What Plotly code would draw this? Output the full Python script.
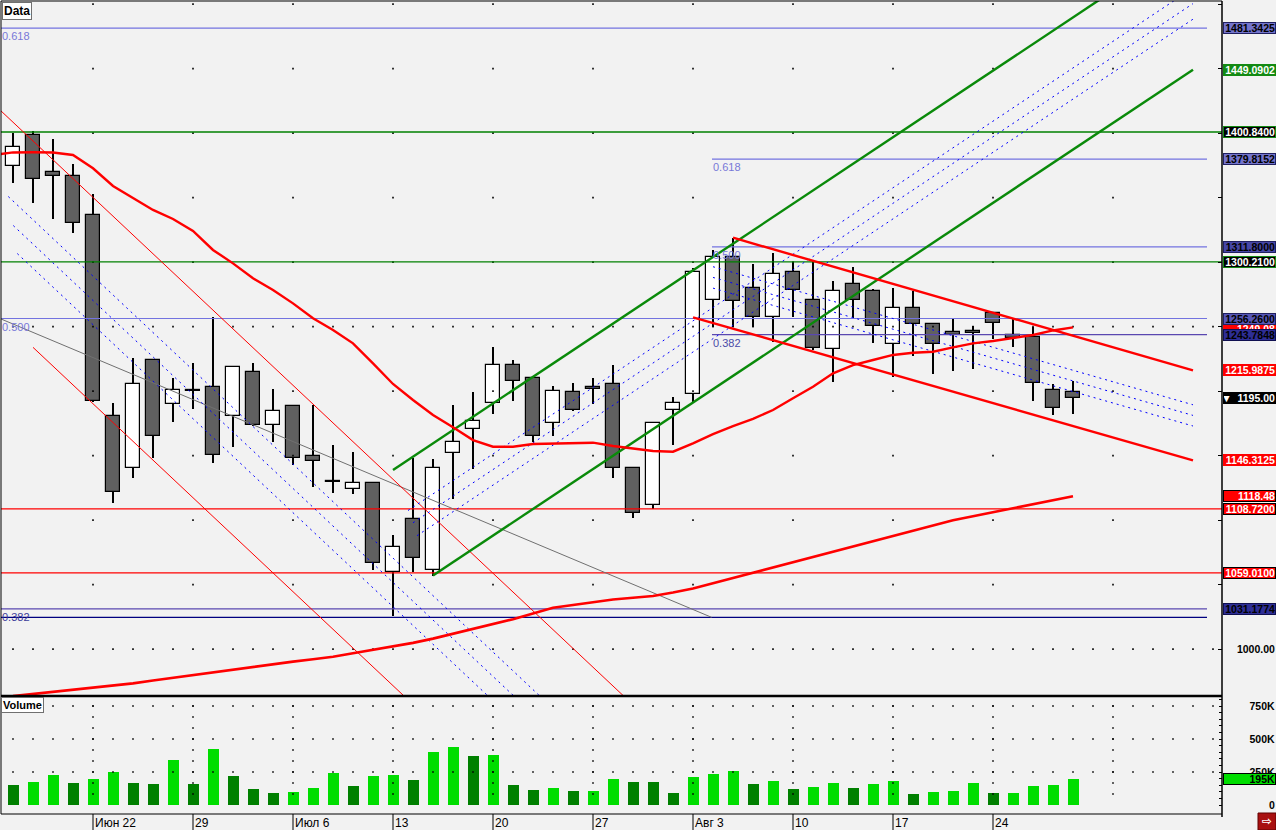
import plotly.graph_objects as go

# ---------------- data ----------------
candle_idx = list(range(54))
opens = [1374.7, 1398.5, 1369.6, 1366.5, 1336.3, 1180.7, 1140.1, 1224.1, 1189.7, 1200.8,
         1202.9, 1180.7, 1215.0, 1173.7, 1188.4, 1149.9, 1130.3, 1123.9, 1128.5, 1059.5,
         1100.6, 1061.3, 1151.8, 1170.4, 1190.5, 1219.9, 1209.9, 1175.0, 1199.1, 1202.9,
         1205.3, 1140.1, 1111.7, 1185.1, 1197.5, 1270.4, 1303.7, 1279.7, 1257.2, 1292.1,
         1270.4, 1232.4, 1282.8, 1277.3, 1236.3, 1264.2, 1251.8, 1245.6, 1246.3, 1260.3,
         1243.2, 1241.7, 1200.6, 1199.1]
highs = [1400.1, 1401.8, 1395.2, 1376.0, 1352.6, 1191.0, 1225.4, 1224.5, 1209.9, 1221.5,
         1257.2, 1219.5, 1221.5, 1201.4, 1189.0, 1189.2, 1158.2, 1153.0, 1129.0, 1088.4,
         1147.9, 1147.3, 1189.2, 1199.1, 1233.9, 1224.1, 1211.0, 1203.9, 1206.5, 1210.3,
         1220.2, 1141.0, 1176.0, 1195.2, 1295.4, 1309.4, 1318.9, 1298.3, 1307.3, 1299.8,
         1301.6, 1285.3, 1296.2, 1279.0, 1279.7, 1277.6, 1253.0, 1255.6, 1250.2, 1261.0,
         1255.6, 1249.9, 1205.3, 1207.6]
lows = [1361.3, 1345.6, 1333.2, 1322.3, 1191.8, 1113.0, 1132.4, 1147.9, 1176.3, 1185.9,
        1144.0, 1156.9, 1173.0, 1160.8, 1142.7, 1125.8, 1121.2, 1120.0, 1061.3, 1025.6,
        1060.0, 1056.6, 1116.1, 1139.4, 1182.0, 1192.5, 1160.8, 1165.4, 1184.5, 1189.7,
        1132.4, 1101.4, 1108.3, 1158.0, 1191.0, 1249.9, 1249.9, 1249.9, 1238.3, 1257.2,
        1232.0, 1207.3, 1255.6, 1237.0, 1210.7, 1227.4, 1213.0, 1215.3, 1216.9, 1240.1,
        1233.9, 1192.1, 1181.2, 1182.0]
closes = [1389.0, 1364.2, 1366.5, 1330.1, 1192.3, 1121.5, 1205.3, 1165.2, 1200.8, 1200.1,
          1150.4, 1218.9, 1173.7, 1184.8, 1147.9, 1145.8, 1129.5, 1129.0, 1066.7, 1079.4,
          1070.4, 1140.1, 1160.3, 1176.6, 1219.9, 1207.6, 1165.0, 1199.8, 1185.1, 1201.4,
          1140.1, 1105.3, 1175.0, 1190.5, 1292.1, 1303.7, 1269.6, 1257.2, 1290.5, 1278.1,
          1233.2, 1277.3, 1270.4, 1250.2, 1264.2, 1251.8, 1236.3, 1243.2, 1244.8, 1252.6,
          1240.9, 1206.0, 1186.6, 1195.0]

volumes = [152, 177, 227, 167, 197, 250, 167, 159, 341, 159,
           424, 220, 121, 91, 98, 129, 242, 144, 220, 227,
           189, 402, 439, 371, 379, 152, 114, 129, 106, 106,
           197, 177, 177, 91, 212, 235, 258, 159, 182, 121,
           136, 167, 129, 159, 182, 83, 98, 106, 167, 91,
           91, 144, 152, 195]  # thousands
volume_up = [0, 1, 1, 0, 1, 1, 0, 0, 1, 0,
             1, 0, 0, 0, 1, 1, 1, 0, 1, 1,
             0, 1, 1, 0, 1, 0, 0, 1, 0, 1,
             1, 0, 0, 0, 1, 1, 1, 0, 1, 0,
             1, 1, 0, 1, 1, 0, 1, 1, 1, 0,
             1, 1, 1, 1]

ma_fast_idx = list(range(-1, 54))
ma_fast = [1383.0, 1385.0, 1385.1, 1384.9, 1383.0, 1372.7, 1359.0, 1349.4, 1340.4, 1333.4,
           1324.1, 1309.4, 1299.0, 1287.4, 1278.4, 1268.0, 1256.4, 1247.3, 1237.0, 1221.5,
           1205.5, 1193.1, 1181.5, 1171.9, 1162.0, 1156.9, 1156.9, 1159.0, 1159.5, 1159.8,
           1160.0, 1157.4, 1155.6, 1153.6, 1153.0, 1159.5, 1166.7, 1172.9, 1178.4, 1185.3,
           1194.4, 1203.4, 1213.8, 1220.2, 1224.1, 1228.0, 1229.7, 1230.5, 1233.9, 1237.0,
           1238.8, 1240.9, 1243.5, 1247.0, 1249.4]
ma_slow = [963.5, 965.1, 966.8, 968.5, 970.1, 971.8, 973.4, 975.7, 977.8, 980.1,
           982.3, 984.5, 986.5, 988.3, 990.3, 992.1, 994.1, 996.7, 999.4, 1002.0,
           1004.8, 1008.1, 1011.8, 1015.5, 1019.3, 1023.2, 1027.6, 1032.0, 1034.2, 1036.5,
           1038.4, 1039.8, 1041.1, 1043.8, 1047.0, 1051.1, 1055.2, 1059.2, 1063.3, 1067.4,
           1071.4, 1075.5, 1079.6, 1083.7, 1087.7, 1091.8, 1095.8, 1099.9, 1103.0, 1106.1,
           1109.2, 1112.4, 1115.5, 1118.48]

week_ticks = [4, 9, 14, 19, 24, 29, 34, 39, 44, 49]
week_labels = ["Июн 22", "29", "Июл 6", "13", "20", "27", "Авг 3", "10", "17", "24"]
grid_cols = [4, 9, 14, 19, 24, 29, 34, 39, 44, 49, 55]
price_levels = [1000, 1050, 1100, 1150, 1200, 1250, 1300, 1350, 1400, 1450, 1500]
dense_levels = [1000, 1250]
vol_levels = [250, 500, 750]

# Fibonacci levels (value, label)
fib_left = [(1481.3425, "0.618"), (1256.26, "0.500"), (1031.1774, "0.382")]
fib_right = [(1379.8152, "0.618"), (1311.80, "0.500"), (1243.7848, "0.382")]
green_levels = [1400.84, 1300.21]
red_levels = [1108.72, 1059.01]
navy_level = 1024.6

# trend lines: (x0, y0, x1, y1) in (bar index, price)
thin_red_lines = [(-1, 1423.0, 31, 956.8), (1.0, 1233.9, 21, 942.5)]
down_fib_lines = [(-0.235, 1350.8, 27, 954.0), (0.015, 1328.3, 27, 935.1), (0.215, 1306.6, 27, 916.3)]
grey_line = (-1, 1258.5, 34.93, 1024.6)
green_channel = [(19.0, 1138.8, 59, 1551.6), (21.0, 1057.0, 59, 1449.09)]
up_fib_lines = [(19.75, 1107.4, 59, 1512.4), (20.0, 1097.9, 59, 1500.35), (20.2, 1087.9, 59, 1488.3)]
red_channel = [(36, 1318.9, 59, 1215.99), (34, 1257.2, 59, 1146.31)]
red_fib_lines = [(35, 1296.4, 59, 1189.37), (35, 1288.1, 59, 1181.15), (35, 1279.8, 59, 1172.93)]

# right-side price tags: (value, text, background, text colour, border)
price_tags = [
    (1481.3425, "1481.3425", "#7474cc", "#000000", "#202060"),
    (1449.0902, "1449.0902", "#138a13", "#ffffff", "#138a13"),
    (1400.84, "1400.8400", "#000000", "#ffffff", "#138a13"),
    (1379.8152, "1379.8152", "#7474cc", "#000000", "#202060"),
    (1311.80, "1311.8000", "#4646a6", "#000000", "#202060"),
    (1300.21, "1300.2100", "#000000", "#ffffff", "#138a13"),
    (1248.4, "1249.08", "#ff0000", "#ffffff", "#ff0000"),
    (1256.26, "1256.2600", "#5656b6", "#000000", "#202060"),
    (1243.7848, "1243.7848", "#2e2e96", "#000000", "#101050"),
    (1215.9875, "1215.9875", "#ff0000", "#ffffff", "#ff0000"),
    (1195.00, "▼  1195.00", "#000000", "#ffffff", "#000000"),
    (1146.3125, "1146.3125", "#ff0000", "#ffffff", "#ff0000"),
    (1118.48, "1118.48", "#ff0000", "#ffffff", "#000000"),
    (1108.72, "1108.7200", "#ff0000", "#ffffff", "#000000"),
    (1059.01, "1059.0100", "#ff0000", "#ffffff", "#000000"),
    (1031.1774, "1031.1774", "#2e2e96", "#000000", "#101050"),
]
volume_labels = [(750, "750K"), (500, "500K"), (250, "250K"), (0, "0")]
last_volume_tag = (195, "195K")

# ---------------- layout constants ----------------
W, H = 1276, 830
ML, MR, MT, MB = 1, 54, 1, 16
PW, PH = W - ML - MR, H - MT - MB
X_RANGE = [-0.6, 60.45]
PRICE_RANGE = [964.40, 1502.39]
VOL_RANGE = [-68.2, 818.2]
price_dom = [(814 - 695) / PH, 1.0]
vol_dom = [0.0, (814 - 697) / PH]

LIGHT_FIB = "#7373e0"
DARK_FIB = "#5a48b0"
BLUE_DASH = "#0000ff"


def xpaper(i):
    return (i - X_RANGE[0]) / (X_RANGE[1] - X_RANGE[0])


def ypaper(py):
    return (814 - py) / PH


fig = go.Figure()

# grid dots (price)
gx, gy = [], []
for lv in price_levels:
    cols = list(range(0, 61)) if lv in dense_levels else grid_cols
    for c in cols:
        gx.append(c)
        gy.append(lv)
fig.add_trace(go.Scatter(x=gx, y=gy, mode="markers", yaxis="y",
                         marker=dict(size=1.6, color="#000000", symbol="square"), hoverinfo="skip"))
# grid dots (volume)
vx, vy = [], []
for lv in vol_levels:
    for c in range(0, 61):
        vx.append(c)
        vy.append(lv)
for c in grid_cols:
    for k in range(1, 10):
        vx.append(c)
        vy.append(k * 250 / 3)
fig.add_trace(go.Scatter(x=vx, y=vy, mode="markers", yaxis="y2",
                         marker=dict(size=1.6, color="#000000", symbol="square"), hoverinfo="skip"))

# candles: wicks then bodies
fig.add_trace(go.Bar(x=candle_idx, y=[h - l for h, l in zip(highs, lows)], base=lows,
                     width=0.055, marker=dict(color="#000000", line=dict(width=0)), yaxis="y"))
body_base = [min(o, c) for o, c in zip(opens, closes)]
body_h = [max(abs(c - o), 0.6) for o, c in zip(opens, closes)]
body_col = ["#ffffff" if c > o else "#606060" for o, c in zip(opens, closes)]
fig.add_trace(go.Bar(x=candle_idx, y=body_h, base=body_base, width=0.66,
                     marker=dict(color=body_col, line=dict(color="#000000", width=1.2)), yaxis="y"))

# volume bars
fig.add_trace(go.Bar(x=candle_idx, y=volumes, width=0.55, yaxis="y2",
                     marker=dict(color=["#00dd00" if u else "#008000" for u in volume_up],
                                 line=dict(width=0))))


def seg(x0, y0, x1, y1, color, width=1.0, dash="solid", yaxis="y"):
    fig.add_trace(go.Scatter(x=[x0, x1], y=[y0, y1], mode="lines", yaxis=yaxis,
                             line=dict(color=color, width=width, dash=dash), hoverinfo="skip"))


# horizontal levels
for v, _ in fib_left:
    seg(-1, v, 59.7, v, DARK_FIB if v < 1100 else LIGHT_FIB, 1.2)
for v, _ in fib_right:
    seg(34.95, v, 59.7, v, DARK_FIB if v < 1250 else LIGHT_FIB, 1.2)
seg(-1, navy_level, 59.7, navy_level, "#000080", 1.3)
for v in green_levels:
    seg(-1, v, 61, v, "#008000", 1.3)
for v in red_levels:
    seg(-1, v, 61, v, "#ff0000", 1.3)

# trend lines
seg(*grey_line, "#707070", 1.0)
for ln in thin_red_lines:
    seg(*ln, "#ff0000", 1.0)
for ln in down_fib_lines:
    seg(*ln, BLUE_DASH, 1.0, "2px,4px")
for ln in up_fib_lines:
    seg(*ln, BLUE_DASH, 1.0, "2px,4px")
for ln in red_fib_lines:
    seg(*ln, BLUE_DASH, 1.0, "2px,4px")
for ln in green_channel:
    seg(*ln, "#0a8a0a", 2.4)

# moving averages
fig.add_trace(go.Scatter(x=ma_fast_idx, y=ma_fast, mode="lines", yaxis="y",
                         line=dict(color="#ff0000", width=2.4), hoverinfo="skip"))
fig.add_trace(go.Scatter(x=candle_idx, y=ma_slow, mode="lines", yaxis="y",
                         line=dict(color="#ff0000", width=2.6), hoverinfo="skip"))
for ln in red_channel:
    seg(*ln, "#ff0000", 2.4)

# ---------------- annotations ----------------
ann = []
FONT = "Liberation Sans"
for v, t in fib_left:
    ann.append(dict(xref="x", x=-0.58, xanchor="left", yref="y", y=v, yanchor="top", yshift=-1,
                    text=t, showarrow=False, borderpad=0,
                    font=dict(family=FONT, size=11, color="#3c3c9a" if v < 1100 else "#7878d8")))
for v, t in fib_right:
    ann.append(dict(xref="x", x=34.95, xanchor="left", yref="y", y=v, yanchor="top", yshift=-1,
                    text=t, showarrow=False, borderpad=0,
                    font=dict(family=FONT, size=11, color="#4a4aa8" if v < 1250 else "#7878d8")))

for v, t, bg, fg, bc in price_tags:
    ann.append(dict(xref="paper", x=1, xanchor="left", xshift=1, yref="y", y=v, yanchor="middle",
                    text="<b>" + t + "</b>", showarrow=False, align="right", width=51, height=10,
                    bgcolor=bg, bordercolor=bc, borderwidth=1, borderpad=0,
                    font=dict(family=FONT, size=10.5, color=fg)))
ann.append(dict(xref="paper", x=1, xanchor="left", xshift=1, yref="y", y=1000, yanchor="middle",
                text="<b>1000.00</b>", showarrow=False, align="right", width=51, height=10,
                borderpad=0, font=dict(family=FONT, size=10.5, color="#000000")))
for v, t in volume_labels:
    ann.append(dict(xref="paper", x=1, xanchor="left", xshift=1, yref="y2", y=v, yanchor="middle",
                    text="<b>" + t + "</b>", showarrow=False, align="right", width=51, height=10,
                    borderpad=0, font=dict(family=FONT, size=10.5, color="#000000")))
ann.append(dict(xref="paper", x=1, xanchor="left", xshift=1, yref="y2", y=last_volume_tag[0],
                yanchor="middle", text="<b>" + last_volume_tag[1] + "</b>", showarrow=False,
                align="right", width=51, height=10, bgcolor="#00dd00", bordercolor="#000000",
                borderwidth=1, borderpad=0, font=dict(family=FONT, size=10.5, color="#000000")))

for i, t in zip(week_ticks, week_labels):
    ann.append(dict(xref="x", x=i, xanchor="left", xshift=1, yref="paper", y=0, yanchor="top",
                    yshift=-1, text=t, showarrow=False, borderpad=0,
                    font=dict(family=FONT, size=12, color="#000000")))

ann.append(dict(xref="paper", x=0, xanchor="left", xshift=1, yref="paper", y=1, yanchor="top",
                yshift=-1, text="<b>Data</b>", showarrow=False, bgcolor="#ffffff",
                bordercolor="#707070", borderwidth=1, borderpad=1,
                font=dict(family=FONT, size=12, color="#000000")))
ann.append(dict(xref="paper", x=0, xanchor="left", xshift=0, yref="y2 domain", y=1, yanchor="top",
                yshift=0, text="<b>Volume</b>", showarrow=False, bgcolor="#ffffff",
                bordercolor="#707070", borderwidth=1, borderpad=1,
                font=dict(family=FONT, size=11, color="#000000")))
ann.append(dict(xref="paper", x=(1267 - ML) / PW, xanchor="center", yref="paper",
                y=ypaper(821), yanchor="middle", text="<b>⇨</b>", showarrow=False,
                font=dict(family="DejaVu Sans", size=12, color="#ffffff")))

# ---------------- shapes (frame, ticks) ----------------
shapes = []
K = dict(color="#000000", width=1)
shapes.append(dict(type="line", xref="paper", yref="paper", x0=0, x1=1, y0=1, y1=1, line=K))
shapes.append(dict(type="line", xref="paper", yref="paper", x0=0, x1=0, y0=0, y1=1, line=K))
shapes.append(dict(type="line", xref="paper", yref="paper", x0=0, x1=1, y0=ypaper(696), y1=ypaper(696),
                   line=dict(color="#000000", width=2.5)))
shapes.append(dict(type="line", xref="paper", yref="paper", x0=0, x1=1, y0=0, y1=0, line=K))
shapes.append(dict(type="line", xref="paper", yref="paper", x0=1, x1=1, y0=ypaper(817), y1=1,
                   line=dict(color="#000000", width=1.5)))
for i in week_ticks:
    shapes.append(dict(type="line", xref="paper", yref="paper", x0=xpaper(i), x1=xpaper(i),
                       y0=0, y1=ypaper(830), line=K))
shapes.append(dict(type="rect", xref="paper", yref="paper", x0=(1258 - ML) / PW, x1=(1276 - ML) / PW,
                   y0=ypaper(813), y1=ypaper(830), fillcolor="#a81010", line=dict(color="#600000", width=1)))

fig.update_layout(
    width=W, height=H,
    margin=dict(l=ML, r=MR, t=MT, b=MB),
    paper_bgcolor="#f2f2f2", plot_bgcolor="#f2f2f2",
    showlegend=False, hovermode=False, barmode="overlay", bargap=0,
    xaxis=dict(domain=[0, 1], anchor="y2", range=X_RANGE, showgrid=False, zeroline=False,
               showticklabels=False, ticks="", fixedrange=True),
    yaxis=dict(domain=price_dom, anchor="x", side="right", range=PRICE_RANGE, showgrid=False,
               zeroline=False, showticklabels=False, ticks="inside", ticklen=4, tickcolor="#000000",
               tickvals=price_levels, fixedrange=True),
    yaxis2=dict(domain=vol_dom, anchor="x", side="right", range=VOL_RANGE, showgrid=False,
                zeroline=False, showticklabels=False, ticks="inside", ticklen=3, tickcolor="#000000",
                tickvals=list(range(0, 801, 50)), fixedrange=True),
    annotations=ann, shapes=shapes,
)

fig.write_html("out.html", config={"displayModeBar": False},
               post_script="document.body.style.margin='0';document.body.style.overflow='hidden';")
